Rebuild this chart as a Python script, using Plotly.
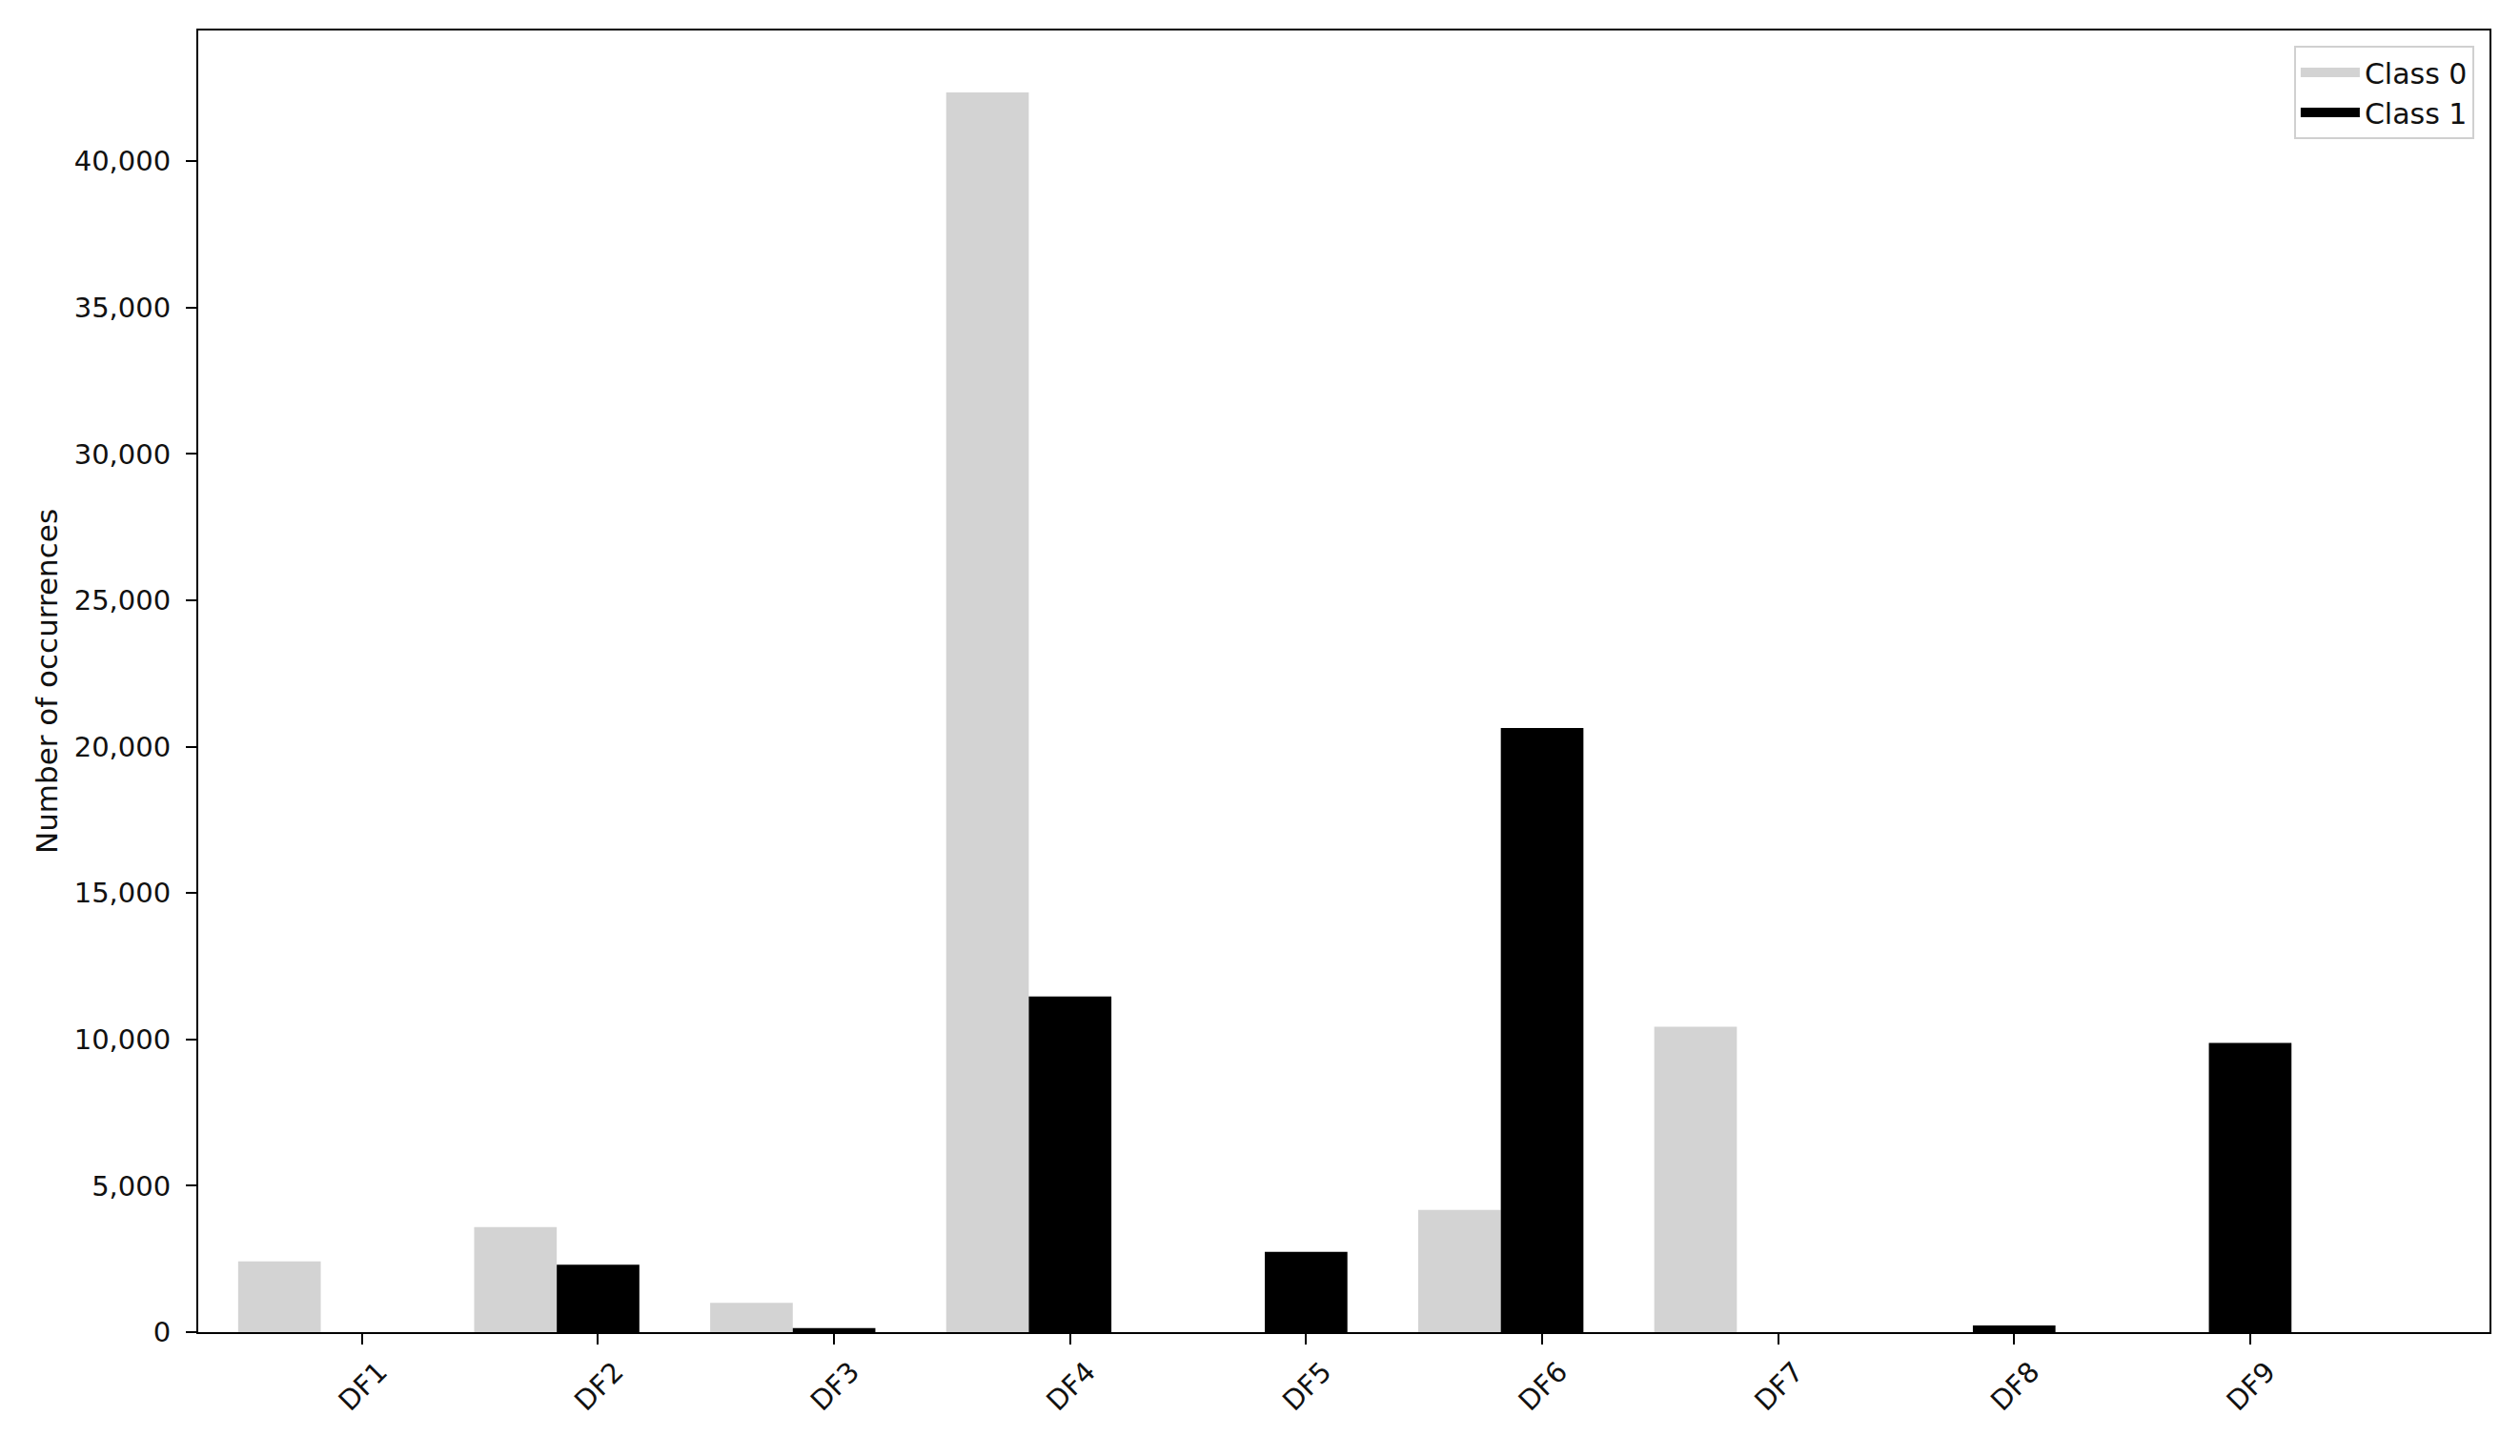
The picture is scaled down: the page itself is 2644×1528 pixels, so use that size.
import plotly.graph_objects as go

# data
categories = ['DF1', 'DF2', 'DF3', 'DF4', 'DF5', 'DF6', 'DF7', 'DF8', 'DF9']
class0 = [2415, 3590, 1000, 42350, 0, 4175, 10430, 0, 0]
class1 = [0, 2300, 140, 11470, 2745, 20640, 0, 225, 9880]
series_names = ['Class 0', 'Class 1']
series_colors = ['#d3d3d3', 'black']

pos = list(range(len(categories)))
W = 0.35

fig = go.Figure()
for i, vals in enumerate([class0, class1]):
    fig.add_trace(go.Bar(
        x=pos, y=vals, name=series_names[i],
        width=W, offset=(i - 1.5) * W,
        marker=dict(color=series_colors[i], line=dict(width=0)),
        showlegend=False,
    ))
    # legend-only entry so the key looks like a wide patch
    fig.add_trace(go.Scatter(
        x=[None], y=[None], mode='lines', name=series_names[i],
        line=dict(color=series_colors[i], width=20),
    ))

font = 'DejaVu Sans, Verdana, sans-serif'
fig.update_layout(
    width=2628, height=1512,
    margin=dict(l=200, r=24, t=24, b=122),
    plot_bgcolor='white', paper_bgcolor='white',
    font=dict(family=font, size=29, color='#111111'),
    barmode='overlay',
    xaxis=dict(
        range=[-0.694, 9.014],
        tickmode='array', tickvals=pos, ticktext=categories,
        tickangle=-45, ticklabelshift=18,
        showline=True, linecolor='black', linewidth=2, mirror=True,
        ticks='outside', ticklen=11, tickwidth=2, tickcolor='black',
        showgrid=False, zeroline=False,
    ),
    yaxis=dict(
        range=[0, 44470],
        tickmode='linear', tick0=0, dtick=5000, tickformat=',d',
        showline=True, linecolor='black', linewidth=2, mirror=True,
        ticks='outside', ticklen=11, tickwidth=2, tickcolor='black',
        ticklabelstandoff=10,
        showgrid=False, zeroline=False,
        title=dict(text='Number of occurrences', standoff=8, font=dict(size=31)),
    ),
    legend=dict(
        x=0.9933, y=0.9883, xanchor='right', yanchor='top',
        bgcolor='white', bordercolor='#d0d0d0', borderwidth=2,
        font=dict(size=30), itemwidth=62, tracegroupgap=0,
    ),
)

fig.write_html("out.html")
